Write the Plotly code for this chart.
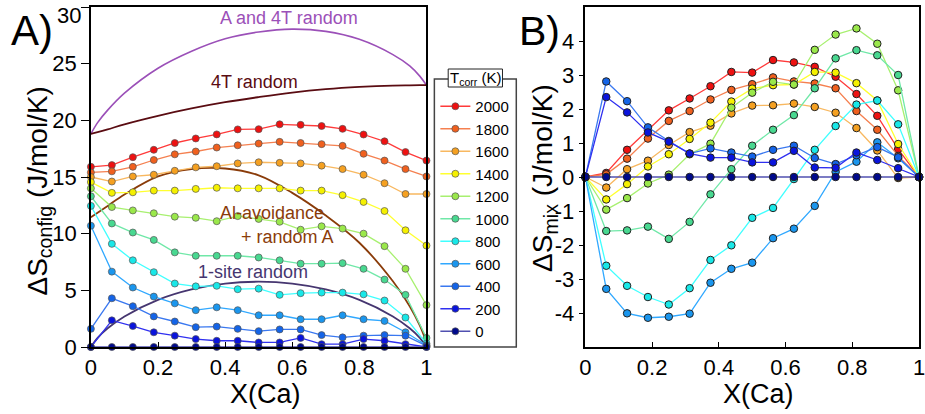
import plotly.graph_objects as go

# ---------------- data ----------------
x_ca = [0, 0.0625, 0.125, 0.1875, 0.25, 0.3125, 0.375, 0.4375, 0.5,
        0.5625, 0.625, 0.6875, 0.75, 0.8125, 0.875, 0.9375, 1.0]

temps = ["2000", "1800", "1600", "1400", "1200", "1000", "800", "600", "400", "200", "0"]

# Panel A: configurational entropy (J/mol/K)
cfg_2000 = [15.9, 16.05, 16.75, 17.4, 18.0, 18.4, 18.76, 19.2, 19.22, 19.65, 19.6, 19.5, 19.25, 18.75, 18.15, 17.2, 16.45]
cfg_1800 = [15.4, 15.5, 15.9, 16.5, 17.0, 17.25, 17.6, 17.8, 17.95, 18.1, 18.0, 17.9, 17.75, 17.05, 16.45, 15.7, 15.05]
cfg_1600 = [15.0, 14.6, 15.05, 15.2, 15.55, 15.85, 15.95, 16.2, 16.3, 16.25, 16.2, 16.0, 15.7, 15.2, 14.45, 13.5, 13.5]
cfg_1400 = [14.55, 13.6, 13.65, 13.8, 13.8, 13.95, 14.05, 14.0, 14.0, 14.0, 13.8, 13.8, 13.4, 12.8, 12.0, 10.3, 8.95]
cfg_1200 = [14.0, 12.35, 12.05, 11.8, 11.5, 11.4, 11.1, 11.55, 11.3, 11.05, 10.35, 10.65, 10.45, 10.0, 8.9, 6.9, 3.7]
cfg_1000 = [13.3, 10.9, 10.1, 9.45, 8.35, 8.05, 8.05, 8.05, 7.9, 7.65, 7.35, 7.35, 7.4, 6.9, 5.95, 4.6, 0.8]
cfg_800 = [12.45, 9.1, 7.65, 6.6, 5.6, 5.35, 5.4, 5.1, 5.15, 4.6, 4.75, 4.8, 4.8, 4.65, 4.1, 2.6, 0.3]
cfg_600 = [10.7, 6.65, 5.25, 4.45, 3.85, 3.25, 3.5, 3.25, 2.8, 2.8, 2.45, 2.45, 2.8, 2.45, 2.3, 1.3, 0.15]
cfg_400 = [1.6, 4.3, 3.6, 2.7, 2.25, 1.75, 1.8, 1.6, 1.4, 1.55, 1.55, 1.05, 0.85, 1.0, 1.05, 1.0, 0.1]
cfg_200 = [0.0, 2.35, 1.85, 1.3, 1.0, 0.7, 0.55, 0.55, 0.4, 0.4, 0.8, 0.25, 0.25, 0.7, 0.55, 0.25, 0.0]
cfg_0 = [0.0] * 17

# Panel B: mixing entropy (J/mol/K)
mix_2000 = [0, 0.12, 0.80, 1.38, 1.96, 2.31, 2.67, 3.09, 3.07, 3.44, 3.37, 3.24, 2.95, 2.44, 1.80, 0.82, 0]
mix_1800 = [0, 0.08, 0.54, 1.13, 1.65, 1.94, 2.28, 2.56, 2.73, 2.93, 2.81, 2.75, 2.61, 1.94, 1.39, 0.62, 0]
mix_1600 = [0, -0.31, 0.23, 0.48, 0.94, 1.32, 1.51, 1.87, 2.10, 2.11, 2.16, 2.06, 1.89, 1.44, 0.78, -0.03, 0]
mix_1400 = [0, -0.66, -0.21, 0.31, 0.67, 1.12, 1.60, 2.22, 2.60, 2.70, 2.72, 3.09, 3.07, 2.76, 2.25, 0.97, 0]
mix_1200 = [0, -0.96, -0.62, -0.19, 0.07, 0.67, 0.98, 2.04, 2.48, 2.80, 2.72, 3.74, 4.19, 4.37, 3.92, 2.55, 0]
mix_1000 = [0, -1.59, -1.57, -1.46, -1.82, -1.32, -0.51, 0.23, 0.92, 1.39, 1.82, 2.61, 3.49, 3.73, 3.58, 3.00, 0]
mix_800 = [0, -2.61, -3.20, -3.53, -3.75, -3.27, -2.44, -2.01, -1.20, -0.91, -0.06, 0.80, 1.50, 2.13, 2.25, 1.55, 0]
mix_600 = [0, -3.29, -4.01, -4.14, -4.11, -4.02, -3.11, -2.70, -2.52, -1.80, -1.52, -0.85, 0.15, 0.45, 1.02, 0.55, 0]
mix_400 = [0, 2.81, 2.23, 1.46, 1.06, 0.69, 0.84, 0.72, 0.60, 0.80, 0.92, 0.56, 0.38, 0.64, 0.88, 0.58, 0]
mix_200 = [0, 2.35, 1.90, 1.31, 1.04, 0.69, 0.57, 0.57, 0.43, 0.43, 0.77, 0.28, 0.27, 0.72, 0.50, 0.26, 0]
mix_0 = [0.0] * 17

# Model curves (at sample compositions)
model_x = [0, 0.02, 0.05, 0.1, 0.2, 0.3, 0.4, 0.5, 0.6, 0.7, 0.8, 0.9, 0.95, 0.98, 1.0]
model_a4t = [18.8, 19.8, 20.9, 22.4, 24.6, 26.1, 27.2, 27.8, 28.05, 27.85, 27.15, 25.8, 24.8, 23.9, 23.1]
model_4t = [18.8, 18.95, 19.2, 19.65, 20.4, 21.05, 21.6, 22.05, 22.45, 22.75, 22.95, 23.07, 23.09, 23.1, 23.1]
model_alav = [11.45, 11.85, 12.45, 13.45, 15.05, 15.7, 15.75, 15.15, 13.6, 11.6, 9.2, 5.8, 3.6, 1.9, 0.4]
model_site1 = [0, 0.81, 1.65, 2.7, 4.16, 5.08, 5.6, 5.76, 5.6, 5.08, 4.16, 2.7, 1.65, 0.81, 0]

y1_ticks = [0, 5, 10, 15, 20, 25, 30]
y1_ticktext = ["0", "5", "10", "15", "20", "25", ""]
y2_ticks = [-4, -3, -2, -1, 0, 1, 2, 3, 4]
y2_ticktext = ["-4", "-3", "-2", "-1", "0", "1", "2", "3", "4"]

cfg_series = [cfg_2000, cfg_1800, cfg_1600, cfg_1400, cfg_1200, cfg_1000,
              cfg_800, cfg_600, cfg_400, cfg_200, cfg_0]
mix_series = [mix_2000, mix_1800, mix_1600, mix_1400, mix_1200, mix_1000,
              mix_800, mix_600, mix_400, mix_200, mix_0]

marker_colors = ["#ee1111", "#f0601e", "#f5a020", "#f5f000", "#9ae84a", "#48d890",
                 "#18e8e8", "#1a96ee", "#1464e8", "#0a14dc", "#000a8c"]
line_colors = ["#ff3a3a", "#f58050", "#f8b860", "#ffff30", "#a8f070", "#70e8a8",
               "#40ffff", "#30a8ff", "#3a78f0", "#3030f0", "#5050b0"]

FONT = "Liberation Sans, Arial, Helvetica, sans-serif"

fig = go.Figure()

# model curves
for xs, ys, col, w in [(model_x, model_a4t, "#9b50b8", 1.6),
                       (model_x, model_4t, "#5a0c12", 1.8),
                       (model_x, model_alav, "#8a3c0a", 1.8),
                       (model_x, model_site1, "#463670", 1.8)]:
    fig.add_trace(go.Scatter(x=xs, y=ys, mode="lines", line=dict(color=col, width=w, shape="spline"),
                             showlegend=False, xaxis="x", yaxis="y", hoverinfo="skip"))

# panel A data
for t, ys, mc, lc in zip(temps, cfg_series, marker_colors, line_colors):
    fig.add_trace(go.Scatter(x=x_ca, y=ys, mode="lines+markers", name=t,
                             line=dict(color=lc, width=1.3),
                             marker=dict(color=mc, size=7, line=dict(color="#555555", width=0.7)),
                             cliponaxis=False, xaxis="x", yaxis="y"))

# panel B data
for t, ys, mc, lc in zip(temps, mix_series, marker_colors, line_colors):
    fig.add_trace(go.Scatter(x=x_ca, y=ys, mode="lines+markers", name=t, showlegend=False,
                             line=dict(color=lc, width=1.3),
                             marker=dict(color=mc, size=7.5, line=dict(color="#222222", width=1)),
                             cliponaxis=False, xaxis="x2", yaxis="y2"))

W, H = 925, 414
T_M, B_M = 7, 67
PH = H - T_M - B_M


def px(xp):
    return xp / W


def py(yp):
    return (H - B_M - yp) / PH


axis_common = dict(showline=True, linecolor="black", linewidth=1.5, mirror=True,
                   showgrid=False, zeroline=False, tickfont=dict(size=22, family=FONT, color="black"),
                   tickcolor="black", ticklabeloverflow="allow")

fig.update_layout(
    width=W, height=H,
    margin=dict(l=0, r=0, t=T_M, b=B_M),
    plot_bgcolor="white", paper_bgcolor="white",
    font=dict(family=FONT, color="black"),
    xaxis=dict(domain=[px(86), px(426)], range=[0, 1], dtick=0.2, ticks="inside", ticklen=5,
               anchor="y", **axis_common),
    yaxis=dict(domain=[0, 1], range=[0, 30], tickvals=y1_ticks, ticktext=y1_ticktext,
               ticks="outside", ticklen=8, anchor="x", **axis_common),
    xaxis2=dict(domain=[px(587), 1.0], range=[0, 1], dtick=0.2, ticks="inside", ticklen=5,
                anchor="y2", **axis_common),
    yaxis2=dict(domain=[0, 1], range=[-5, 5], tickvals=y2_ticks, ticktext=y2_ticktext,
                ticks="outside", ticklen=5, anchor="x2", **axis_common),
    legend=dict(x=px(435), y=py(90), xanchor="left", yanchor="top",
                bgcolor="rgba(0,0,0,0)", borderwidth=0,
                font=dict(size=15, family=FONT, color="black"), traceorder="normal"),
    showlegend=True,
)

# legend frame and title box
fig.add_shape(type="rect", xref="paper", yref="paper", x0=px(434), x1=px(517), y0=py(347), y1=py(79),
              line=dict(color="#444444", width=1.5), fillcolor="rgba(0,0,0,0)", layer="above")
fig.add_shape(type="rect", xref="paper", yref="paper", x0=px(448), x1=px(503), y0=py(87), y1=py(69),
              line=dict(color="#222222", width=1), fillcolor="white", layer="above")

annots = [
    dict(text="T<sub>corr</sub> (K)", x=px(475.5), y=py(78), size=15, color="black", xa="center"),
    dict(text="30", x=px(78), y=py(15), size=22, color="black", xa="right"),
    dict(text="A)", x=px(26), y=py(31), size=42, color="black", xa="center"),
    dict(text="B)", x=px(541), y=py(31), size=41, color="black", xa="center"),
    dict(text="A and 4T random", x=px(287), y=py(18), size=18, color="#9b50b8", xa="center"),
    dict(text="4T random", x=px(252), y=py(82), size=18, color="#5a0c12", xa="center"),
    dict(text="Al-avoidance", x=px(270), y=py(213), size=18, color="#8a3c0a", xa="center"),
    dict(text="+ random A", x=px(285), y=py(237), size=18, color="#8a3c0a", xa="center"),
    dict(text="1-site random", x=px(250), y=py(272), size=18, color="#463670", xa="center"),
    dict(text="X(Ca)", x=px(263), y=py(394), size=27, color="black", xa="center"),
    dict(text="X(Ca)", x=px(762), y=py(394), size=27, color="black", xa="center"),
]
for a in annots:
    fig.add_annotation(text=a["text"], x=a["x"], y=a["y"], xref="paper", yref="paper",
                       xanchor=a["xa"], yanchor="middle", showarrow=False,
                       font=dict(size=a["size"], color=a["color"], family=FONT))

fig.add_annotation(text="ΔS<sub>config</sub> (J/mol/K)", x=px(33), y=py(191), xref="paper", yref="paper",
                   textangle=-90, showarrow=False, xanchor="center", yanchor="middle",
                   font=dict(size=28, family=FONT, color="black"))
fig.add_annotation(text="ΔS<sub>mix</sub> (J/mol/K)", x=px(545), y=py(178), xref="paper", yref="paper",
                   textangle=-90, showarrow=False, xanchor="center", yanchor="middle",
                   font=dict(size=28, family=FONT, color="black"))

fig.write_html("out.html")
